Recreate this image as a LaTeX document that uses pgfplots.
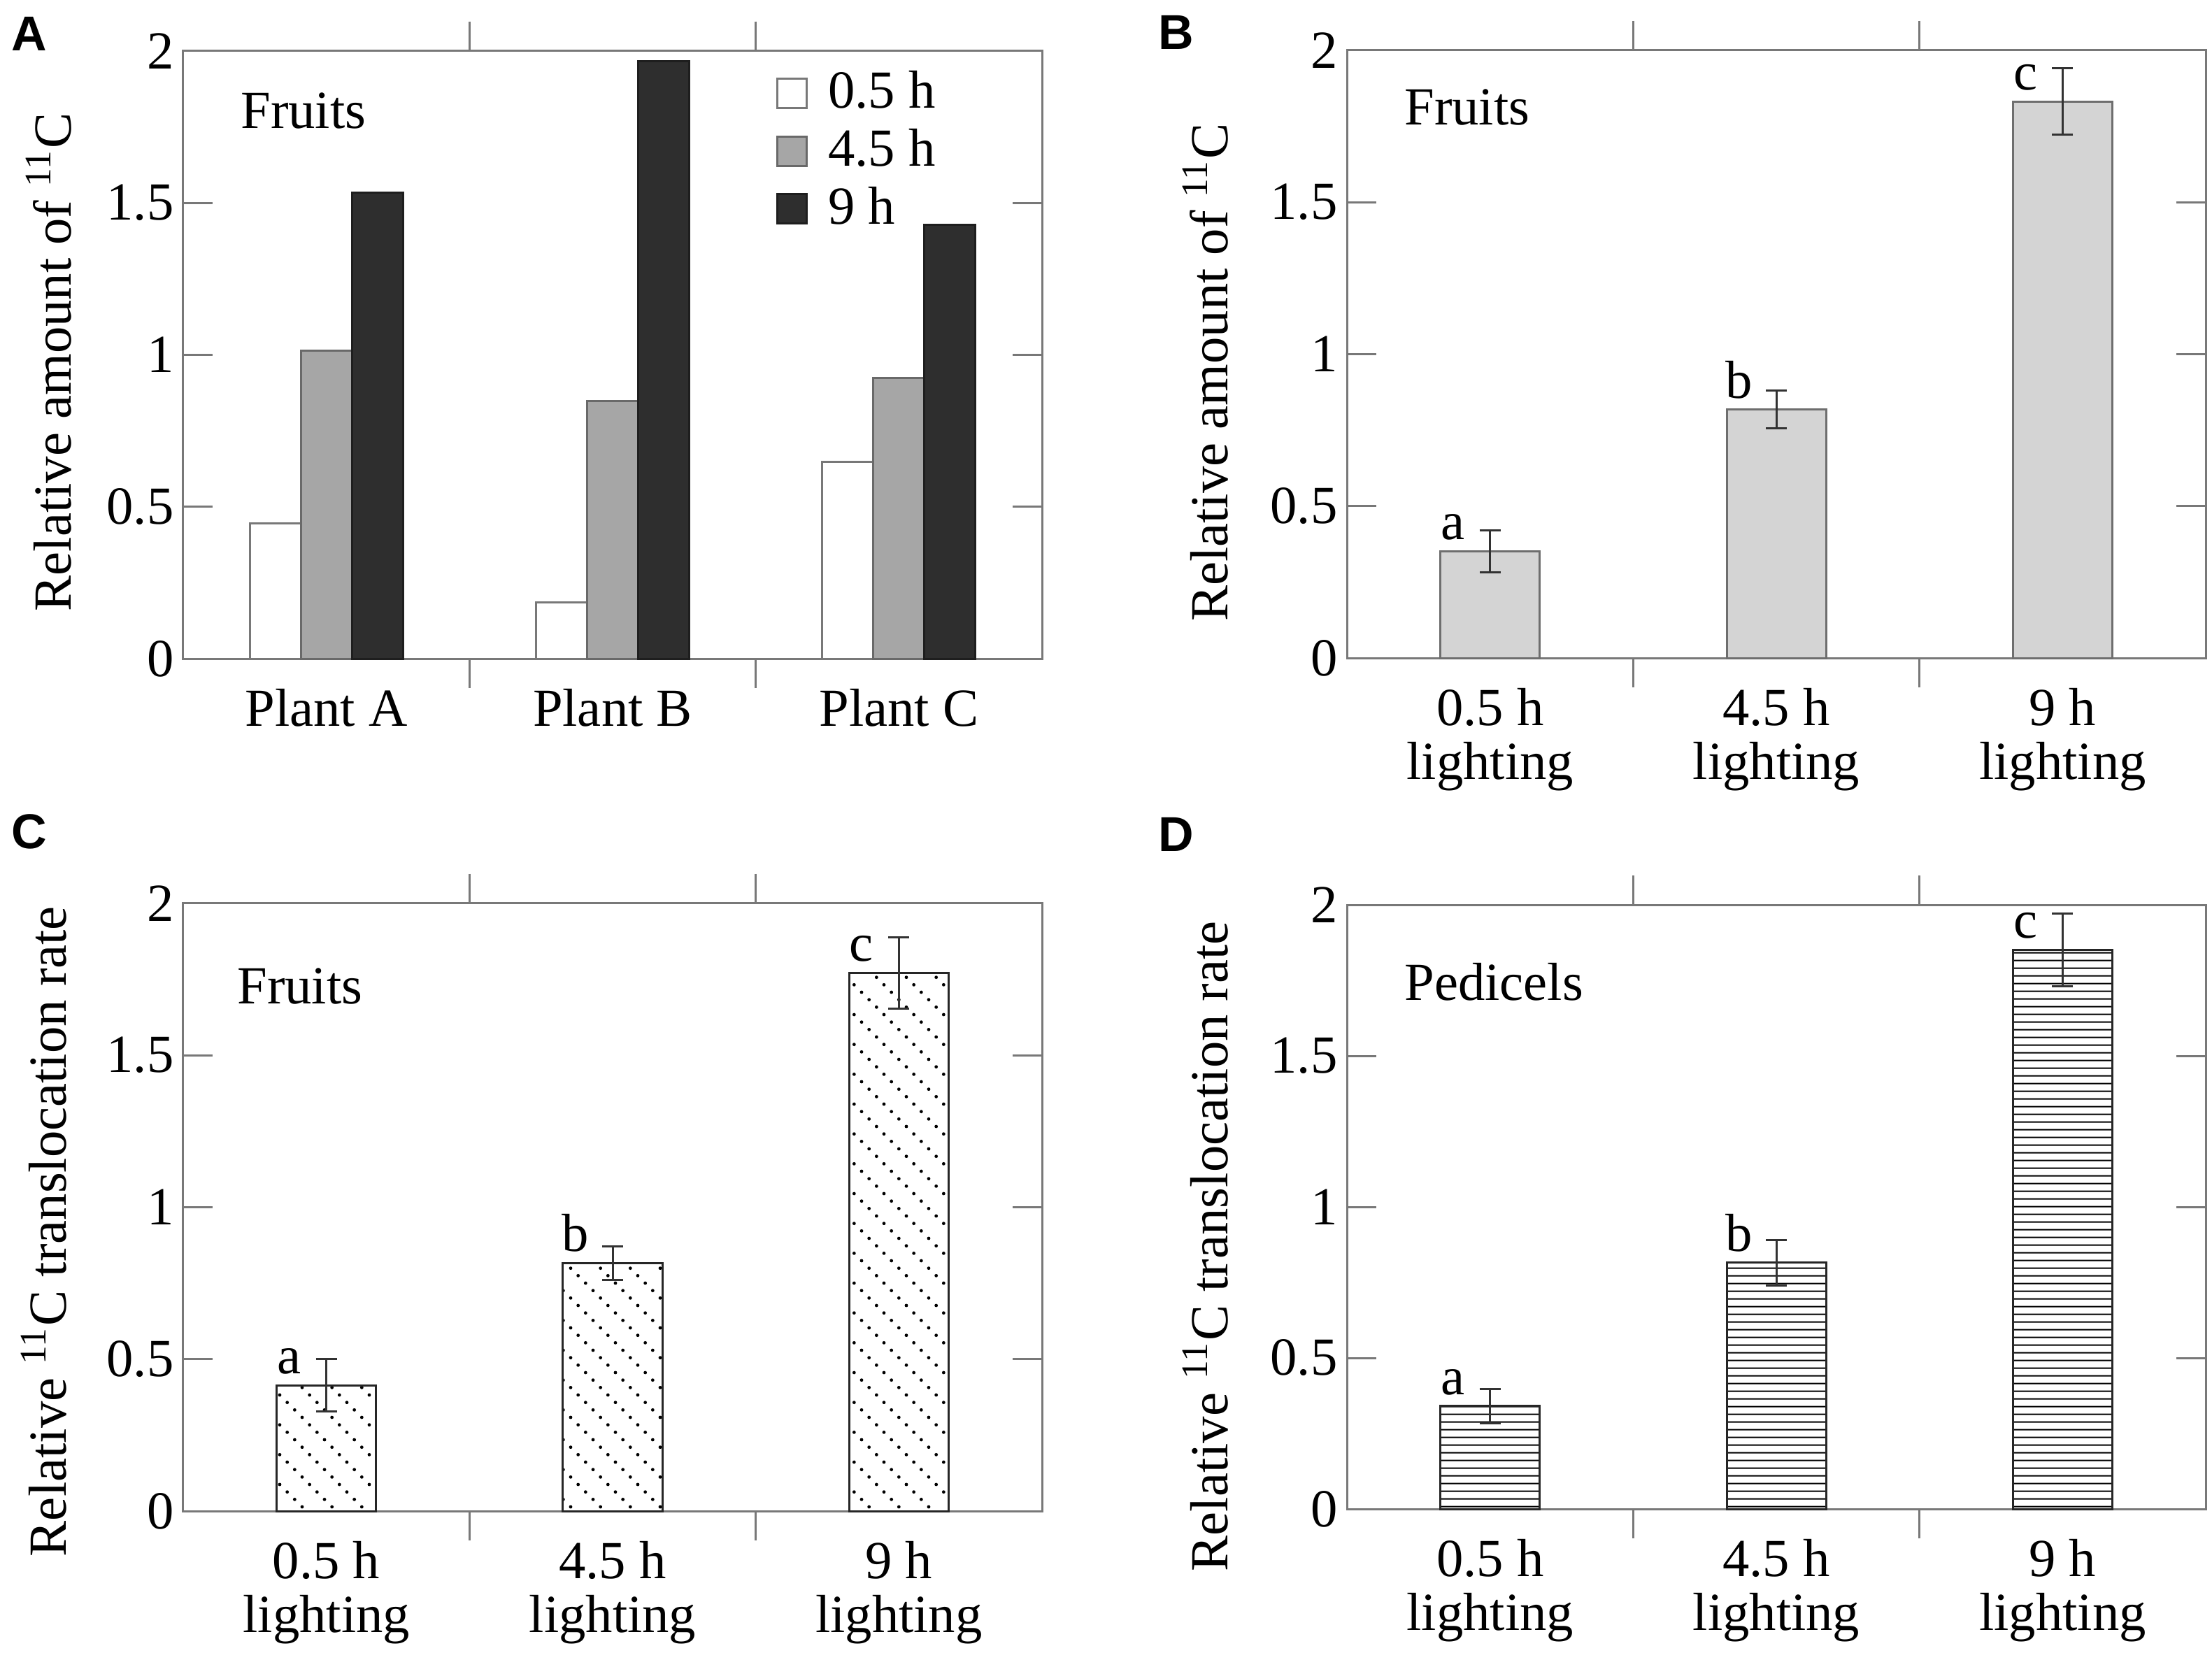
\documentclass[border=0pt]{standalone}
\usepackage{fontspec}
\setmainfont{Liberation Serif}
\newfontfamily\panelfont{Liberation Sans}
\usepackage{pgfplots}
\pgfplotsset{compat=1.18}
\usepackage{pgfplotstable}
\usetikzlibrary{patterns}

\pgfdeclarepatternformonly{dotdiag}{\pgfqpoint{-0.5pt}{-0.5pt}}{\pgfqpoint{6.9pt}{6.9pt}}{\pgfqpoint{6.4pt}{6.4pt}}{%
  \pgfpathcircle{\pgfqpoint{0.8pt}{5.6pt}}{0.36pt}%
  \pgfpathcircle{\pgfqpoint{2.4pt}{4.0pt}}{0.36pt}%
  \pgfpathcircle{\pgfqpoint{4.0pt}{2.4pt}}{0.36pt}%
  \pgfpathcircle{\pgfqpoint{5.6pt}{0.8pt}}{0.36pt}%
  \pgfusepath{fill}}
\pgfdeclarepatternformonly{hlinesD}{\pgfpointorigin}{\pgfqpoint{100pt}{1.7pt}}{\pgfqpoint{100pt}{1.7pt}}{%
  \pgfsetlinewidth{0.35pt}%
  \pgfpathmoveto{\pgfqpoint{0pt}{0.85pt}}%
  \pgfpathlineto{\pgfqpoint{100pt}{0.85pt}}%
  \pgfusepath{stroke}}

\definecolor{axgray}{RGB}{120,120,120}
\definecolor{errc}{RGB}{50,50,50}
\definecolor{fillG}{RGB}{166,166,166}
\definecolor{drawG}{RGB}{105,105,105}
\definecolor{fillK}{RGB}{46,46,46}
\definecolor{drawK}{RGB}{30,30,30}
\definecolor{fillB}{RGB}{212,212,212}
\definecolor{drawB}{RGB}{110,110,110}

\newcommand{\lbl}{\fontsize{11.5}{11.55}\selectfont}

\pgfplotstableread{
x y e l
0 0.352 0.069 a
1 0.817 0.062 b
2 1.831 0.110 c
}\tabB
\pgfplotstableread{
x y e l
0 0.414 0.086 a
1 0.816 0.056 b
2 1.771 0.117 c
}\tabC
\pgfplotstableread{
x y e l
0 0.341 0.057 a
1 0.815 0.075 b
2 1.851 0.121 c
}\tabD

\pgfplotsset{
  panel/.style={
    width=184.2pt, height=130.4pt, scale only axis,
    xmin=-0.5, xmax=2.5, ymin=0, ymax=2,
    enlargelimits=false, clip=false,
    ytick={0,0.5,1,1.5,2},
    xtick={0.5,1.5}, xticklabels={,,},
    tick align=inside, tick pos=both,
    major tick length=6.3pt,
    axis line style={draw=axgray, line width=0.45pt},
    tick style={draw=axgray, line width=0.45pt},
    tick label style={font=\lbl},
    xticklabel style={align=center, yshift=-3pt},
    yticklabel style={xshift=1.5pt},
    label style={font=\lbl},
    /pgf/number format/assume math mode=true,
    extra x ticks={0,1,2},
    extra x tick style={major tick length=0pt},
  },
  sqlegend/.style={legend image code/.code={%
    \draw[##1] (0pt,-3.15pt) rectangle (6.3pt,3.15pt);
    \path (10.65pt,0pt);}},
  letters/.style={point meta=explicit symbolic, nodes near coords,
    nodes near coords style={anchor=base, xshift=-8pt, yshift=2.5pt,
      font=\lbl, inner sep=0pt, text=black}},
  errs/.style={error bars/.cd, y dir=both, y explicit,
    error bar style={draw=errc, line width=0.45pt},
    error mark options={rotate=90, draw=errc, line width=0.45pt, mark size=2.25pt}},
}

\begin{document}
\begin{tikzpicture}
\path[use as bounding box] (0pt,0pt) rectangle (474.45pt,-354.45pt);

% ---------------- A
\begin{axis}[panel, at={(39.3pt,-141.3pt)}, anchor=south west,
  ybar=0pt, bar width=10.95pt,
  extra x tick labels={Plant A,Plant B,Plant C},
  ylabel={Relative amount of \textsuperscript{11}C},
  ylabel style={at={(axis description cs:-0.131,0.488)}, anchor=base},
  legend style={at={(0.6906,0.9667)}, anchor=north west, draw=none, fill=none,
    inner sep=0pt, outer sep=0pt, row sep=2.95pt,
    nodes={inner sep=0pt, font=\lbl}},
  legend cell align=left]
\addplot[fill=white, draw=axgray, line width=0.45pt, sqlegend]
  coordinates {(0,0.445) (1,0.185) (2,0.647)};
\addplot[fill=fillG, draw=drawG, line width=0.45pt, sqlegend]
  coordinates {(0,1.013) (1,0.847) (2,0.923)};
\addplot[fill=fillK, draw=drawK, line width=0.45pt, sqlegend]
  coordinates {(0,1.534) (1,1.965) (2,1.427)};
\legend{0.5 h,4.5 h,9 h}
\node[anchor=base west, inner sep=0pt, font=\lbl] at (axis cs:-0.302,1.745) {Fruits};
\end{axis}

% ---------------- B
\begin{axis}[panel, at={(288.9pt,-141.15pt)}, anchor=south west,
  ybar, bar width=21.3pt,
  extra x tick labels={{0.5 h\\lighting},{4.5 h\\lighting},{9 h\\lighting}},
  ylabel={Relative amount of \textsuperscript{11}C},
  ylabel style={at={(axis description cs:-0.139,0.47)}, anchor=base}]
\addplot[fill=fillB, draw=drawB, line width=0.45pt, letters, errs]
  table[x=x, y=y, y error=e, meta=l] {\tabB};
\node[anchor=base west, inner sep=0pt, font=\lbl] at (axis cs:-0.302,1.754) {Fruits};
\end{axis}

% ---------------- C
\begin{axis}[panel, at={(39.3pt,-324.15pt)}, anchor=south west,
  ybar, bar width=21.3pt,
  extra x tick labels={{0.5 h\\lighting},{4.5 h\\lighting},{9 h\\lighting}},
  ylabel={Relative \textsuperscript{11}C translocation rate},
  ylabel style={at={(axis description cs:-0.136,0.46)}, anchor=base}]
\addplot[draw=black!85, pattern=dotdiag, pattern color=black, line width=0.45pt, letters, errs]
  table[x=x, y=y, y error=e, meta=l] {\tabC};
\node[anchor=base west, inner sep=0pt, font=\lbl] at (axis cs:-0.314,1.669) {Fruits};
\end{axis}

% ---------------- D
\begin{axis}[panel, height=129.6pt, at={(288.9pt,-323.7pt)}, anchor=south west,
  ybar, bar width=21.3pt,
  extra x tick labels={{0.5 h\\lighting},{4.5 h\\lighting},{9 h\\lighting}},
  ylabel={Relative \textsuperscript{11}C translocation rate},
  ylabel style={at={(axis description cs:-0.139,0.435)}, anchor=base}]
\addplot[draw=black!85, pattern=hlinesD, pattern color=black, line width=0.45pt, letters, errs]
  table[x=x, y=y, y error=e, meta=l] {\tabD};
\node[anchor=base west, inner sep=0pt, font=\lbl] at (axis cs:-0.302,1.685) {Pedicels};
\end{axis}

% panel letters
\node[anchor=west, inner sep=0pt, font=\panelfont\bfseries\fontsize{10.5}{12}\selectfont] at (2.3pt,-7.3pt) {A};
\node[anchor=west, inner sep=0pt, font=\panelfont\bfseries\fontsize{10.5}{12}\selectfont] at (248.3pt,-7.0pt) {B};
\node[anchor=west, inner sep=0pt, font=\panelfont\bfseries\fontsize{10.5}{12}\selectfont] at (2.3pt,-178.4pt) {C};
\node[anchor=west, inner sep=0pt, font=\panelfont\bfseries\fontsize{10.5}{12}\selectfont] at (248.3pt,-179.0pt) {D};
\end{tikzpicture}
\end{document}
